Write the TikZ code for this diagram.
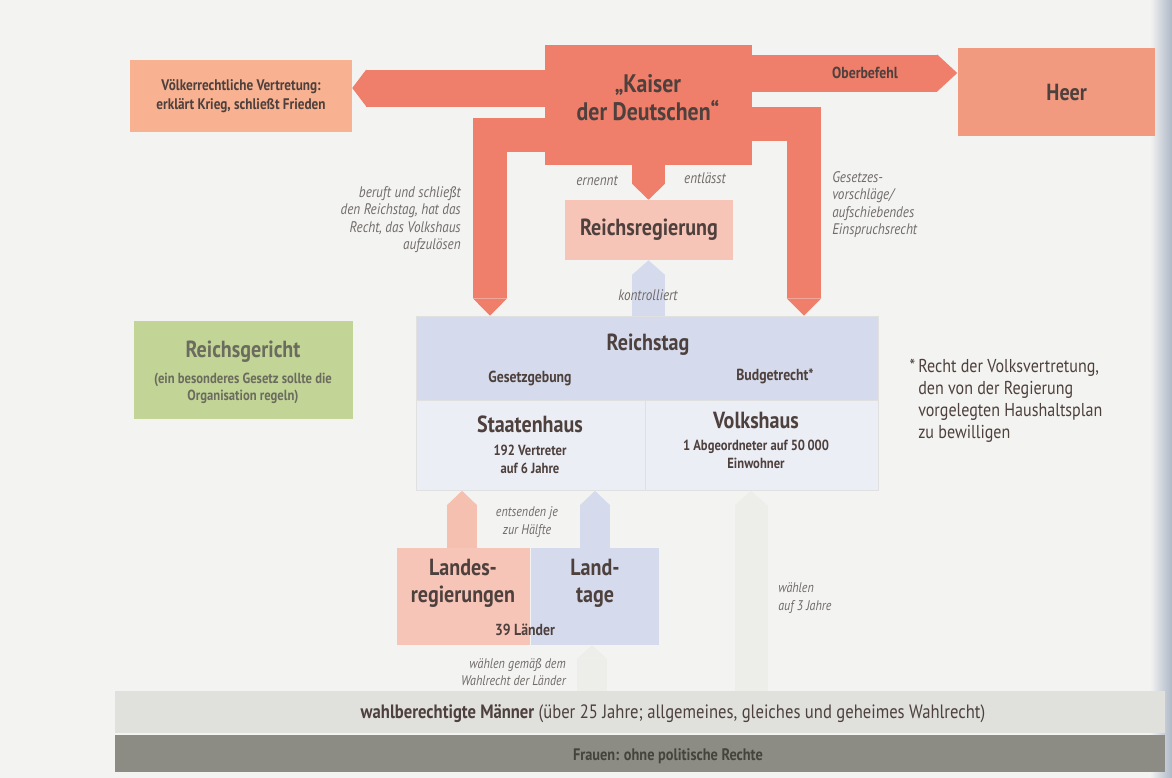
\documentclass[tikz,border=0pt]{standalone}
\usepackage{fontspec}
\setmainfont{PT Sans}[FakeStretch=0.86]
\usetikzlibrary{arrows.meta, positioning, calc}

\definecolor{bgcol}{HTML}{F3F3F1}
\definecolor{textdark}{HTML}{4D403D}
\definecolor{textgray}{HTML}{716B69}
\definecolor{kaiserred}{HTML}{EF7E6A}
\definecolor{orangelight}{HTML}{F8B291}
\definecolor{heerorange}{HTML}{F29A80}
\definecolor{pinklight}{HTML}{F7C5B7}
\definecolor{pinkband}{HTML}{F5C0AF}
\definecolor{bluemid}{HTML}{D5DBEC}
\definecolor{bluelight}{HTML}{ECEEF5}
\definecolor{greenlight}{HTML}{C2D597}
\definecolor{greentext}{HTML}{6B6B5E}
\definecolor{graylight}{HTML}{E0E0DC}
\definecolor{graydark}{HTML}{8C8B84}
\definecolor{frauentext}{HTML}{45443C}
\definecolor{bandlight}{HTML}{EDEDEA}
\definecolor{pageshadow}{HTML}{AEB8C7}

\begin{document}
\begin{tikzpicture}[
      x=0.75pt,
      y=-0.75pt,
      org/.style={
          rectangle,
          inner sep=0pt,
          align=center,
          text=textdark,
          font=\bfseries\fontsize{17.5}{20}\selectfont
        },
      heading/.style={
          inner sep=0pt,
          text=textdark,
          font=\bfseries\fontsize{17.5}{20}\selectfont
        },
      subtext/.style={
          inner sep=0pt,
          align=center,
          text=textdark,
          font=\bfseries\fontsize{11}{13.5}\selectfont
        },
      remark/.style={
          inner sep=0pt,
          text=textgray,
          font=\itshape\fontsize{11.5}{13.2}\selectfont
        },
      band/.style 2 args={
          line width=#1,
          -{Triangle[width=#1, length=#2, line width=0pt]}
        }
    ]

    % Background
    \fill[bgcol] (0,0) rectangle (1172,778);
    \shade[left color=bgcol, right color=pageshadow] (1150,0) rectangle (1172,778);
    \useasboundingbox (0,0) rectangle (1172,778);

    % Nodes
    \node[org, fill=kaiserred, minimum width=155.25pt, minimum height=90pt] (kaiser) at (648.5,105) {};
    \node[org, fill=orangelight, minimum width=166.5pt, minimum height=54pt,
      font=\bfseries\fontsize{11.5}{14}\selectfont] (voelker) at (241,96) {Völkerrechtliche Vertretung:\\erklärt Krieg, schließt Frieden};
    \node[org, fill=heerorange, minimum width=147.75pt, minimum height=66pt] (heer) at (1056,92) {\hspace*{16pt}Heer};
    \node[org, fill=pinklight, minimum width=126pt, minimum height=45pt] (regierung) at (649,230) {Reichsregierung};
    \node[org, fill=bluemid, draw=black!12, minimum width=346.5pt, minimum height=63pt] (reichstag) at (647,358) {};
    \node[org, fill=bluelight, draw=black!12, minimum width=171.75pt, minimum height=67.5pt,
      anchor=north west] (staaten) at (reichstag.south west) {};
    \node[org, fill=bluelight, draw=black!12, minimum width=174.75pt, minimum height=67.5pt,
      right=0pt of staaten] (volks) {};
    \node[org, fill=greenlight, minimum width=164.25pt, minimum height=73.5pt] (gericht) at (243,370) {};
    \node[org, fill=pinklight, minimum width=99.75pt, minimum height=72.75pt] (landesreg) at (463.5,596.5) {};
    \node[org, fill=bluemid, minimum width=96pt, minimum height=72.75pt, right=0pt of landesreg] (landtage) {};
    \node[org, fill=graylight, minimum width=787.5pt, minimum height=31pt] (maenner) at (640,712) {};
    \node[org, fill=graydark, minimum width=787.5pt, minimum height=27.75pt, below=1.5pt of maenner] (frauen) {};

    % Texts in the boxes
    \node[heading, align=center, font=\bfseries\fontsize{19}{21}\selectfont] (kaisertitle) at (648,98) {„Kaiser\\der Deutschen“};
    \node[heading] (reichstagtitle) at (648,345) {Reichstag};
    \node[subtext, font=\bfseries\fontsize{12}{14}\selectfont] (gesetz) at (530,378) {Gesetzgebung};
    \node[subtext, font=\bfseries\fontsize{12}{14}\selectfont] (budget) at (775,376) {Budgetrecht*};
    \node[heading] (staatentitle) at (530,424) {Staatenhaus};
    \node[subtext, below=9pt of staatentitle] (staateninfo) {192 Vertreter\\auf 6 Jahre};
    \node[heading] (volkstitle) at (756,420) {Volkshaus};
    \node[subtext, below=8pt of volkstitle] (volksinfo) {1 Abgeordneter auf 50\,000\\Einwohner};
    \node[heading, text=greentext] (gerichttitle) at (243,352) {Reichsgericht};
    \node[subtext, text=greentext, font=\bfseries\fontsize{11}{13}\selectfont,
      below=7pt of gerichttitle] (gerichtinfo) {(ein besonderes Gesetz sollte die\\Organisation regeln)};
    \node[heading, align=center] (landestitle) at (463,583) {Landes-\\regierungen};
    \node[heading, align=center] (landtagtitle) at (595,583) {Land-\\tage};
    \node[subtext, font=\bfseries\fontsize{12}{14}\selectfont] (laender) at (525,630) {39 Länder};
    \node[inner sep=0pt, text=textdark, font=\fontsize{14.5}{16}\selectfont] (maennertext) at (673,714)
      {\textbf{wahlberechtigte Männer} (über 25 Jahre; allgemeines, gleiches und geheimes Wahlrecht)};
    \node[inner sep=0pt, text=frauentext, font=\bfseries\fontsize{12.5}{15}\selectfont] (frauentitle) at (668,756)
      {Frauen: ohne politische Rechte};
    \node[anchor=north west, align=left, inner sep=0pt, text=textdark,
      font=\fontsize{14}{16.4}\selectfont] (fussnote) at (918,359) {\llap{*\,}Recht der Volksvertretung,\\den von der Regierung\\vorgelegten Haushaltsplan\\zu bewilligen};

    % Arrows
    \draw[band={27.75pt}{10.5pt}, kaiserred] (kaiser.west |- 0,88) -- (voelker.east |- 0,88);
    \draw[band={27.75pt}{15pt}, kaiserred] (kaiser.east |- 0,73) -- (heer.west |- 0,73);
    \draw[band={25.5pt}{13pt}, kaiserred] (kaiser.west |- 0,135) -| (reichstag.north -| 490,0);
    \draw[band={26pt}{13pt}, kaiserred] (kaiser.east |- 0,124) -| (reichstag.north -| 804,0);
    \draw[band={24.75pt}{12pt}, kaiserred] (kaiser.south) -- (kaiser.south |- regierung.north);
    \draw[band={24.75pt}{11pt}, bluemid] (kaiser.south |- reichstag.north) -- (kaiser.south |- regierung.south);
    \draw[band={23pt}{11pt}, pinkband] (landesreg.north -| 462,0) -- (staaten.south -| 462,0);
    \draw[band={23pt}{11pt}, bluemid] (landtage.north -| 595,0) -- (staaten.south -| 595,0);
    \draw[band={24.75pt}{11pt}, bandlight] (maenner.north -| 751,0) -- (volks.south -| 751,0);
    \draw[band={22pt}{10pt}, bandlight] (maenner.north -| 592,0) -- (landtage.south -| 592,0);

    % Labels
    \node[subtext, font=\bfseries\fontsize{12}{14}\selectfont] (oberbefehl) at (865,73) {Oberbefehl};
    \node[remark, anchor=north east, align=right] (beruft) at (461,186) {beruft und schließt\\den Reichstag, hat das\\Recht, das Volkshaus\\aufzulösen};
    \node[remark, anchor=north west, align=left] (vorschlag) at (832,171) {Gesetzes-\\vorschläge/\\aufschiebendes\\Einspruchsrecht};
    \node[remark] (ernennt) at (597,181) {ernennt};
    \node[remark] (entlaesst) at (705,178) {entlässt};
    \node[remark] (kontrolle) at (648,295) {kontrolliert};
    \node[remark, align=center, font=\itshape\fontsize{10.5}{13}\selectfont] (entsenden) at (527,522) {entsenden je\\zur Hälfte};
    \node[remark, anchor=west, align=left, font=\itshape\fontsize{10.5}{13}\selectfont] (wahldrei) at (778,598) {wählen\\auf 3 Jahre};
    \node[remark, anchor=east, align=right, font=\itshape\fontsize{10.5}{13}\selectfont] (wahlland) at (566,672) {wählen gemäß dem\\Wahlrecht der Länder};
  \end{tikzpicture}
\end{document}
